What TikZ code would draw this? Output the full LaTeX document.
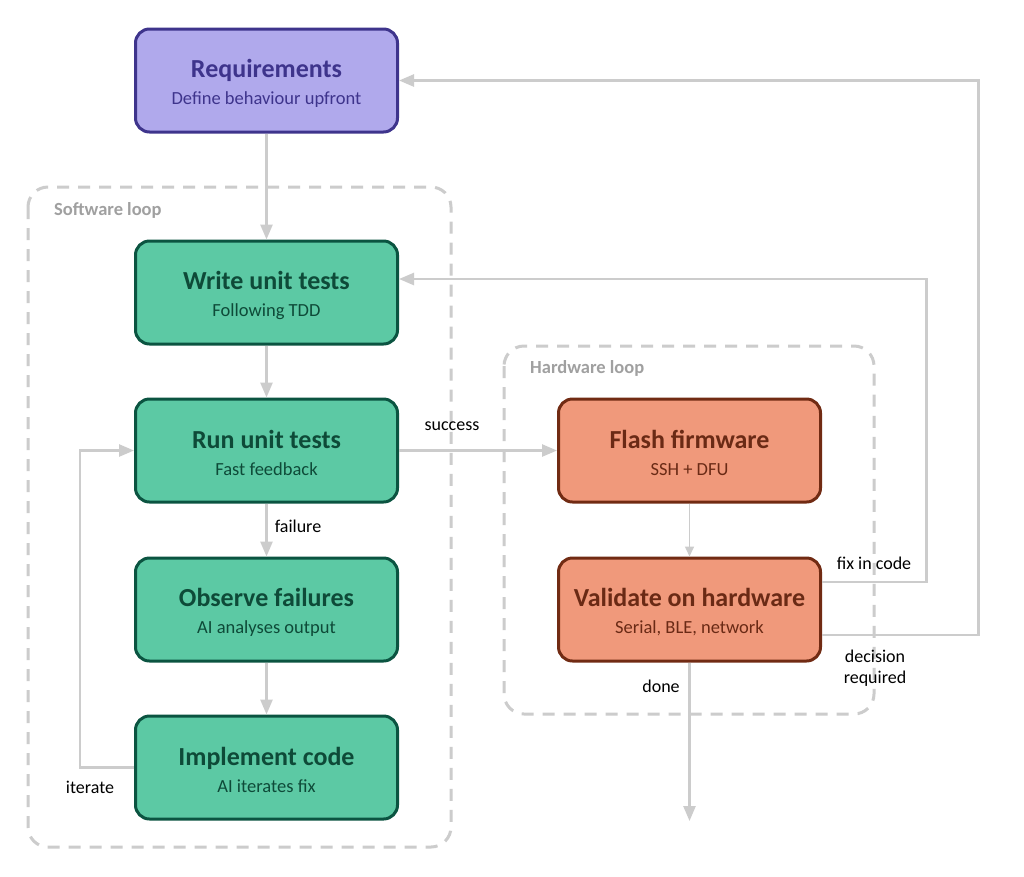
\documentclass[tikz,border=0pt]{standalone}
\usepackage{fontspec}
\setmainfont{Carlito}
\usetikzlibrary{arrows.meta,calc}
\definecolor{reqfill}{HTML}{B0A9EC}
\definecolor{reqdraw}{HTML}{3E348C}
\definecolor{swfill}{HTML}{5CC9A4}
\definecolor{swdraw}{HTML}{0B5441}
\definecolor{swtext}{HTML}{0E4A38}
\definecolor{hwfill}{HTML}{F0997B}
\definecolor{hwdraw}{HTML}{712B13}
\definecolor{hwtext}{HTML}{6A2A15}
\definecolor{conncol}{HTML}{CCCCCC}
\definecolor{grouptext}{HTML}{A0A0A0}
\tikzset{
  stagebox/.style={draw, rectangle, rounded corners=14pt, line width=3pt,
    minimum width=262pt, minimum height=103pt, align=center, inner sep=0pt,
    font=\fontsize{18.5}{27}\selectfont},
  reqbox/.style={stagebox, fill=reqfill, draw=reqdraw, text=reqdraw},
  swbox/.style={stagebox, fill=swfill, draw=swdraw, text=swtext},
  hwbox/.style={stagebox, fill=hwfill, draw=hwdraw, text=hwtext},
  conn/.style={draw=conncol, line width=2.5pt, -{Triangle[length=15pt,width=12pt,color=conncol]}},
  thinconn/.style={draw=conncol, line width=1.5pt, -{Triangle[length=10pt,width=9pt,color=conncol]}},
  edgelabel/.style={font=\fontsize{18}{21.5}\selectfont, text=black, inner sep=0pt, align=center},
  grouplabel/.style={font=\fontsize{18.5}{21}\selectfont\bfseries, text=grouptext, inner sep=0pt, anchor=base west},
  groupbox/.style={draw=conncol, line width=3pt, dash pattern=on 12pt off 9pt, rounded corners=20pt},
}
\newcommand{\ttl}[1]{\rule{0pt}{24pt}{\fontsize{26}{27}\selectfont\bfseries #1}}
\newcommand{\sub}[1]{#1\rule[-2pt]{0pt}{2pt}}
\begin{document}
\begin{tikzpicture}[x=1pt,y=-1pt]
\useasboundingbox (0,0) rectangle (1024,876);
\fill[white] (0,0) rectangle (1024,876);

% groups
\draw[groupbox] (28,187) rectangle (451,847);
\draw[groupbox] (504,346) rectangle (874,714);
\node[grouplabel] (swlab) at (54,215) {Software loop};
\node[grouplabel] (hwlab) at (530,373) {Hardware loop};

% stages
\node[reqbox] (req) at (266.5,80.5) {\ttl{Requirements}\\\sub{Define behaviour upfront}};
\node[swbox] (write) at (266.5,292.5) {\ttl{Write unit tests}\\\sub{Following TDD}};
\node[swbox] (run) at (266.5,450.5) {\ttl{Run unit tests}\\\sub{Fast feedback}};
\node[swbox] (obs) at (266.5,609.5) {\ttl{Observe failures}\\\sub{AI analyses output}};
\node[swbox] (impl) at (266.5,767.5) {\ttl{Implement code}\\\sub{AI iterates fix}};
\node[hwbox] (flash) at (689.5,450.5) {\ttl{Flash firmware}\\\sub{SSH + DFU}};
\node[hwbox] (valid) at (689.5,609.5) {\ttl{Validate on hardware}\\\sub{Serial, BLE, network}};

\coordinate (itx) at (80,0);
\coordinate (fixx) at (926.5,0);
\coordinate (decx) at (978.5,0);
\coordinate (doneend) at (689.5,821);

% connectors
\draw[conn] (req) -- (write);
\draw[conn] (write) -- (run);
\draw[conn] (run) -- (obs);
\draw[conn] (obs) -- (impl);
\draw[conn] (impl.west) -- (impl.west -| itx) |- (run.west);
\draw[conn] (run) -- (flash);
\draw[thinconn] (flash) -- (valid);
\draw[conn] ([yshift=27.5pt]valid.east) -- ([yshift=27.5pt]valid.east -| fixx) |- ([yshift=13.5pt]write.east);
\draw[conn] ([yshift=-25.5pt]valid.east) -- ([yshift=-25.5pt]valid.east -| decx) |- (req.east);
\draw[conn] (valid) -- (doneend);

% labels
\node[edgelabel, anchor=base] (lfail) at (298,532) {failure};
\node[edgelabel, anchor=base] (lsucc) at (452,430) {success};
\node[edgelabel, anchor=base] (liter) at (90,793) {iterate};
\node[edgelabel, anchor=base] (lfix) at (874,569) {fix in code};
\node[edgelabel, anchor=base] (ldone) at (661,692) {done};
\node[edgelabel, anchor=base] (ldec1) at (875,662) {decision};
\node[edgelabel, anchor=base] (ldec2) at (875,683.5) {required};
\end{tikzpicture}
\end{document}
